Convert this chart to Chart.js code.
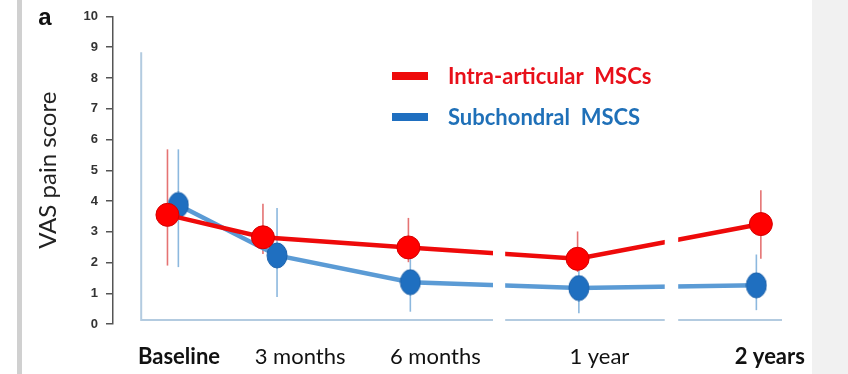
<!DOCTYPE html>
<html>
<head>
<meta charset="utf-8">
<script src="https://cdn.jsdelivr.net/npm/chart.js@4.4.0/dist/chart.umd.min.js"></script>
<style>
  html, body { margin: 0; padding: 0; background: #fff; }
  #wrap { width: 848px; height: 374px; position: relative; }
</style>
</head>
<body>
<div id="wrap"><canvas id="vasChart"></canvas></div>
<script>
// categories and where their labels sit on the (broken) time axis
const categories = ['Baseline', '3 months', '6 months', '1 year', '2 years'];
const boldLabels = [true, false, false, false, true];
const labelX = [0.59, 2.48, 4.59, 7.15, 9.81];

// Intra-articular MSCs (red)
const intraX = [0.41, 1.90, 4.17, 6.81, 9.67];
const intraMean = [3.55, 2.82, 2.49, 2.12, 3.25];
const intraHigh = [5.68, 3.91, 3.45, 3.01, 4.35];
const intraLow = [1.90, 2.28, 2.01, 1.69, 2.12];

// Subchondral MSCs (blue)
const subX = [0.58, 2.12, 4.20, 6.83, 9.60];
const subMean = [3.87, 2.23, 1.36, 1.17, 1.26];
const subHigh = [5.68, 3.77, 2.30, 2.05, 2.26];
const subLow = [1.85, 0.88, 0.40, 0.35, 0.45];

// breaks in the time axis
const axisBreaks = [[5.49, 5.68], [8.17, 8.38]];

function ellipseDot(rx, ry, fill, stroke) {
  const c = document.createElement('canvas');
  c.width = rx * 2 + 2;
  c.height = ry * 2 + 2;
  const g = c.getContext('2d');
  g.beginPath();
  g.ellipse(rx + 1, ry + 1, rx, ry, 0, 0, Math.PI * 2);
  g.fillStyle = fill;
  g.fill();
  g.strokeStyle = stroke;
  g.lineWidth = 1;
  g.stroke();
  return c;
}

const errorSets = [
  { xs: subX, hi: subHigh, lo: subLow, color: '#8cb8de' },
  { xs: intraX, hi: intraHigh, lo: intraLow, color: '#e57373' }
];

const backdrop = {
  id: 'backdrop',
  beforeDraw(chart) {
    const ctx = chart.ctx;
    ctx.save();
    ctx.fillStyle = '#fff';
    ctx.fillRect(0, 0, chart.width, chart.height);
    ctx.fillStyle = '#d0d0d0';
    ctx.fillRect(17, 0, 5, chart.height);
    ctx.fillStyle = '#f1f1f1';
    ctx.fillRect(812, 0, chart.width - 812, chart.height);
    ctx.restore();
  }
};

const frameAndBars = {
  id: 'frameAndBars',
  beforeDatasetsDraw(chart) {
    const { ctx, scales: { x, y } } = chart;
    ctx.save();
    // light inner frame
    ctx.strokeStyle = '#b3cbe0';
    ctx.lineWidth = 2;
    ctx.beginPath();
    ctx.moveTo(x.getPixelForValue(0), y.getPixelForValue(8.84));
    ctx.lineTo(x.getPixelForValue(0), y.getPixelForValue(0.13));
    ctx.lineTo(x.getPixelForValue(10), y.getPixelForValue(0.13));
    ctx.stroke();
    // error bars
    ctx.lineWidth = 1.6;
    errorSets.forEach(s => {
      ctx.strokeStyle = s.color;
      s.xs.forEach((v, i) => {
        const px = x.getPixelForValue(v);
        ctx.beginPath();
        ctx.moveTo(px, y.getPixelForValue(s.hi[i]));
        ctx.lineTo(px, y.getPixelForValue(s.lo[i]));
        ctx.stroke();
      });
    });
    ctx.restore();
  },
  afterDatasetsDraw(chart) {
    const { ctx, scales: { x, y } } = chart;
    ctx.save();
    ctx.fillStyle = '#fff';
    axisBreaks.forEach(([a, b]) => {
      const x0 = x.getPixelForValue(a);
      const x1 = x.getPixelForValue(b);
      const y0 = y.getPixelForValue(4.3);
      const y1 = y.getPixelForValue(-0.1);
      ctx.fillRect(x0, y0, x1 - x0, y1 - y0);
    });
    ctx.restore();
  }
};

const legendAndTag = {
  id: 'legendAndTag',
  afterDraw(chart) {
    const ctx = chart.ctx;
    ctx.save();
    // panel tag
    ctx.fillStyle = '#111';
    ctx.font = 'bold 24px "Liberation Sans"';
    ctx.textAlign = 'center';
    ctx.textBaseline = 'alphabetic';
    ctx.fillText('a', 45, 25);
    // legend
    const rows = [76, 117];
    ctx.textAlign = 'left';
    ctx.textBaseline = 'alphabetic';
    ctx.font = 'bold 22px Lato';
    chart.data.datasets.forEach((ds, i) => {
      ctx.fillStyle = ds.legendColor;
      ctx.fillRect(392, rows[i] - 4, 36, 8);
      ctx.fillStyle = ds.textColor;
      ctx.fillText(ds.label, 448, rows[i] + 7.5);
    });
    ctx.restore();
  }
};

new Chart(document.getElementById('vasChart'), {
  type: 'line',
  data: {
    datasets: [
      {
        label: 'Intra-articular  MSCs',
        data: intraX.map((v, i) => ({ x: v, y: intraMean[i] })),
        borderColor: '#ee0a0a',
        borderWidth: 4.5,
        pointRadius: 11.5,
        pointBackgroundColor: '#ff0000',
        pointBorderColor: '#d40000',
        pointBorderWidth: 1,
        tension: 0,
        legendColor: '#ee0a0a',
        textColor: '#e8101a'
      },
      {
        label: 'Subchondral  MSCS',
        data: subX.map((v, i) => ({ x: v, y: subMean[i] })),
        borderColor: '#5b9bd5',
        borderWidth: 4.5,
        pointStyle: ellipseDot(10, 12.5, '#1f6fc0', '#1a60aa'),
        pointRadius: 12,
        tension: 0,
        legendColor: '#1f6fc0',
        textColor: '#1f70b8'
      }
    ]
  },
  options: {
    responsive: true,
    maintainAspectRatio: false,
    animation: false,
    layout: { padding: { left: 33, right: 66, top: 14, bottom: 0 } },
    plugins: { legend: { display: false }, tooltip: { enabled: false } },
    scales: {
      x: {
        type: 'linear',
        min: -0.44,
        max: 10,
        grid: { display: false, drawTicks: false },
        border: { display: false },
        afterBuildTicks: s => { s.ticks = labelX.map(v => ({ value: v })); },
        afterFit: s => { s.height = 50; },
        ticks: {
          autoSkip: false,
          maxRotation: 0,
          padding: 20,
          color: '#111',
          callback: (v, i) => categories[i],
          font: ctx => ({ family: 'Lato', size: 22, weight: boldLabels[ctx.index] ? 'bold' : 'normal' })
        }
      },
      y: {
        min: 0,
        max: 10,
        afterFit: s => { s.width = 80; },
        ticks: {
          stepSize: 1,
          padding: 8,
          color: '#333',
          font: { family: 'Liberation Sans', size: 13, weight: 'bold' }
        },
        grid: { drawOnChartArea: false, tickLength: 7, tickColor: '#555', lineWidth: 1.5 },
        border: { color: '#555', width: 1.5 },
        title: {
          display: true,
          text: 'VAS pain score',
          color: '#222',
          font: { family: 'Lato', size: 24 },
          padding: { top: 1, bottom: 0 }
        }
      }
    }
  },
  plugins: [backdrop, frameAndBars, legendAndTag]
});
</script>
</body>
</html>
